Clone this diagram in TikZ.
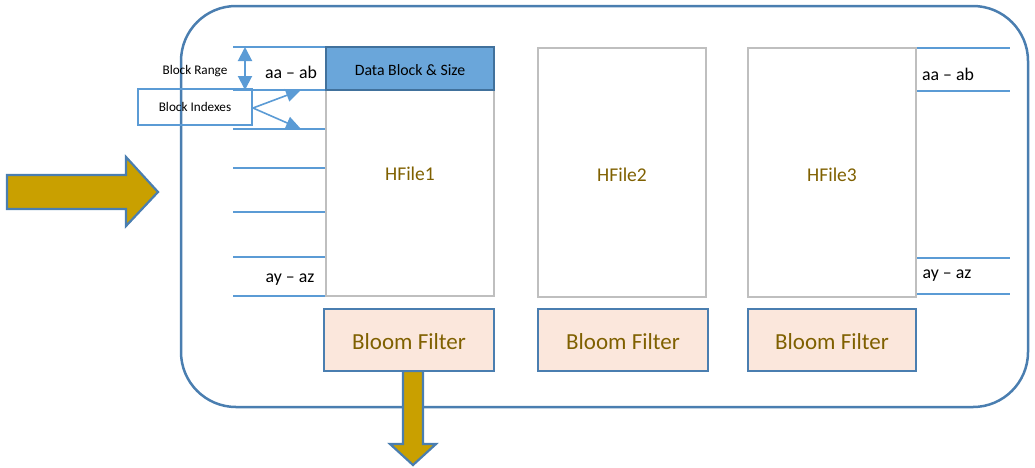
\documentclass[tikz,border=0pt]{standalone}
\usepackage{fontspec}
\setmainfont{Carlito}
\usetikzlibrary{arrows.meta}
\definecolor{framecol}{HTML}{4A7EB0}
\definecolor{tickcol}{HTML}{5B9BD5}
\definecolor{greycol}{HTML}{BFBFBF}
\definecolor{blockfill}{HTML}{6AA6DA}
\definecolor{blockedge}{HTML}{41719C}
\definecolor{bloomfill}{HTML}{FBE7DC}
\definecolor{txtbrown}{HTML}{7F6000}
\definecolor{arrowfill}{HTML}{C9A000}
\tikzset{
  hfile/.style={draw=greycol, line width=2.4pt, minimum width=168pt, minimum height=249pt,
    inner sep=0pt, text=txtbrown, font=\fontsize{19.5}{23}\selectfont,
    text height=17.5pt, text depth=0pt},
  datablock/.style={draw=blockedge, fill=blockfill, line width=2.4pt, minimum width=168pt,
    minimum height=43pt, inner sep=0pt, font=\fontsize{15.8}{19}\selectfont,
    text height=14pt, text depth=0pt},
  bloom/.style={draw=framecol, fill=bloomfill, line width=2.4pt, minimum height=62pt,
    inner sep=0pt, text=txtbrown, font=\fontsize{23}{27}\selectfont,
    text height=19pt, text depth=0pt},
  tick/.style={draw=tickcol, line width=1.3pt},
  rangelbl/.style={inner sep=0pt, font=\fontsize{17.8}{21}\selectfont},
  smalllbl/.style={inner sep=0pt, font=\fontsize{13.2}{16}\selectfont},
  bigarrow/.style={draw=framecol, fill=arrowfill, line width=2.2pt, line join=miter},
}
\begin{document}
\begin{tikzpicture}[x=1pt,y=-1pt]
\useasboundingbox (0,0) rectangle (1035,467);

% outer region frame
\draw[framecol, line width=2.5pt, rounded corners=55pt] (181,6) rectangle (1028,407);

% incoming arrow
\draw[bigarrow] (7,175) -- (126,175) -- (126,157) -- (158,192) -- (126,226) -- (126,209) -- (7,209) -- cycle;

% block boundary ticks, left of HFile1
\foreach \yy/\nm in {47/l0,90/l1,129/l2,168/l3,212/l4,257/l5,296/l6}{
  \coordinate (\nm a) at (233,\yy);
  \coordinate (\nm b) at (326,\yy);
  \draw[tick] (\nm a) -- (\nm b);
}
% block boundary ticks, right of HFile3
\foreach \yy/\nm in {48/r0,91/r1,258/r2,294/r3}{
  \coordinate (\nm a) at (917,\yy);
  \coordinate (\nm b) at (1010,\yy);
  \draw[tick] (\nm a) -- (\nm b);
}

% HFiles
\node[hfile] (hf1) at (410,171.5) {HFile1};
\node[hfile] (hf2) at (622,172.5) {HFile2};
\node[hfile] (hf3) at (832,172.5) {HFile3};
\node[datablock] (db) at (410,68.5) {Data Block \& Size};

% key range labels
\node[rangelbl] (ra1) at (291,72) {aa -- ab};
\node[rangelbl] (rz1) at (290,280) {ay -- az};
\node[rangelbl] (ra3) at (948,74) {aa -- ab};
\node[rangelbl] (rz3) at (947,276) {ay -- az};

% block range marker
\coordinate (brt) at (245,47);
\coordinate (brb) at (245,90);
\draw[tickcol, line width=2pt, {Triangle[width=14pt,length=14pt]}-{Triangle[width=14pt,length=14pt]}] (brt) -- (brb);
\node[smalllbl] (brl) at (195,71) {Block Range};

% block indexes
\node[draw=tickcol, line width=1.6pt, minimum width=114pt, minimum height=36pt, inner sep=0pt,
  font=\fontsize{13.2}{16}\selectfont] (bix) at (195,107) {Block Indexes};
\coordinate (bixo) at (253,108);
\coordinate (ix1) at (301,90);
\coordinate (ix2) at (301,129);
\draw[tickcol, line width=1.6pt, -{Triangle[width=13pt,length=15pt]}] (bixo) -- (ix1);
\draw[tickcol, line width=1.6pt, -{Triangle[width=13pt,length=15pt]}] (bixo) -- (ix2);

% outgoing arrow below the first bloom filter
\draw[bigarrow] (403,371) -- (423,371) -- (423,444) -- (436,444) -- (413,465) -- (390,444) -- (403,444) -- cycle;

% bloom filters
\node[bloom, minimum width=170pt] (bf1) at (409,340) {Bloom Filter};
\node[bloom, minimum width=170pt] (bf2) at (623,340) {Bloom Filter};
\node[bloom, minimum width=168pt] (bf3) at (832,340) {Bloom Filter};
\end{tikzpicture}
\end{document}
